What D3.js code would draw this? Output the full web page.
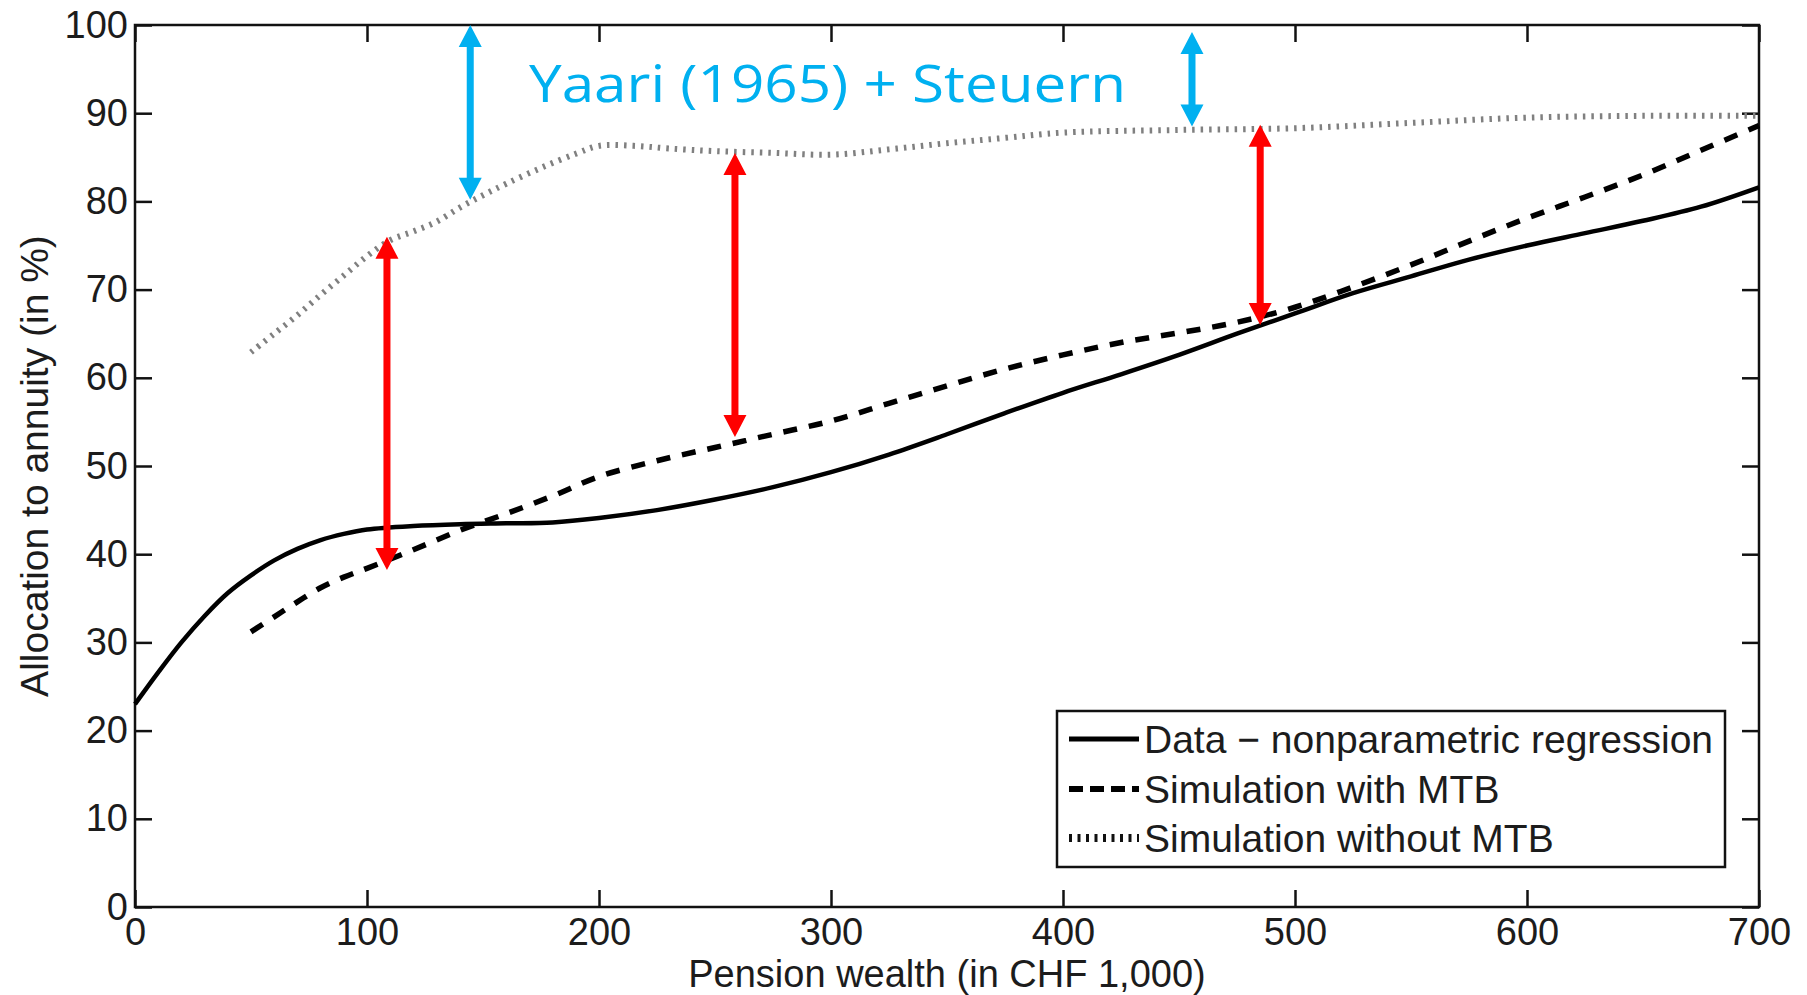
<!DOCTYPE html>
<html><head><meta charset="utf-8">
<script src="https://cdn.jsdelivr.net/npm/d3@7/dist/d3.min.js"></script>
<style>body{margin:0;background:#fff;}svg{display:block;}</style>
</head><body>
<svg id="chart" width="1807" height="995"></svg>
<script>
// ---------- data ----------
const xTicks = [0, 100, 200, 300, 400, 500, 600, 700];
const yTicks = [0, 10, 20, 30, 40, 50, 60, 70, 80, 90, 100];

// Data - nonparametric regression
const wealthData = [0,10,20,30,40,50,60,70,80,90,100,120,140,160,180,200,225,250,275,300,325,350,375,400,425,450,475,500,525,550,575,600,625,650,675,700];
const allocData  = [23.0,26.6,30.0,33.0,35.6,37.6,39.3,40.6,41.6,42.3,42.8,43.2,43.4,43.5,43.6,44.1,45.0,46.2,47.6,49.3,51.3,53.6,56.0,58.3,60.4,62.6,65.0,67.3,69.6,71.5,73.4,75.0,76.4,77.8,79.4,81.6];

// Simulation with MTB
const wealthMTB = [50,60,70,80,90,100,120,140,160,180,200,225,250,275,300,325,350,375,400,425,450,475,500,525,550,575,600,625,650,675,700];
const allocMTB  = [31.2,32.9,34.6,36.2,37.4,38.4,40.5,42.7,44.6,46.6,48.8,50.6,52.1,53.6,55.1,57.1,59.1,61.0,62.6,64.0,65.1,66.3,68.0,70.3,72.8,75.5,78.1,80.5,83.0,85.8,88.6];

// Simulation without MTB
const wealthNoMTB = [50,60,70,80,90,100,110,120,130,140,150,160,175,190,200,215,230,250,275,300,325,350,375,400,450,500,550,600,650,700];
const allocNoMTB  = [62.9,65.0,67.1,69.4,71.6,73.8,75.6,76.6,77.7,79.3,80.7,82.0,83.8,85.4,86.3,86.3,86.0,85.7,85.5,85.3,85.9,86.6,87.2,87.8,88.1,88.3,88.9,89.5,89.7,89.7];

const legendLabels = ["Data \u2212 nonparametric regression", "Simulation with MTB", "Simulation without MTB"];

// annotation arrows (data coordinates)
const arrowX      = [108.6, 258.6, 485, 144.5, 455.6];
const arrowTop    = [76.0, 85.5, 88.7, 100, 99.2];
const arrowBottom = [38.2, 53.3, 66.0, 80.2, 88.5];
const arrowKind   = ["red", "red", "red", "blue", "blue"];
const annotationText = "Yaari (1965) + Steuern";

// ---------- layout ----------
const m = {left: 135, right: 1759, top: 25, bottom: 907};
const FONT = "'Liberation Sans', Arial, Helvetica, sans-serif";
const TXT = "#1c1c1c";

const svg = d3.select("#chart");
const x = d3.scaleLinear().domain([0, 700]).range([m.left, m.right]);
const y = d3.scaleLinear().domain([0, 100]).range([m.bottom, m.top]);

// axes
function styleAxis(g) {
  g.selectAll("path.domain").remove();
  g.selectAll(".tick line").attr("stroke", "#111").attr("stroke-width", 2.5);
  g.selectAll(".tick text").attr("fill", TXT).style("font-family", FONT).style("font-size", "38px");
}
svg.append("g").attr("transform", `translate(0,${m.bottom})`)
  .call(d3.axisBottom(x).tickValues(xTicks).tickSizeInner(-17).tickSizeOuter(0).tickPadding(11))
  .call(styleAxis);
svg.append("g").attr("transform", `translate(0,${m.top})`)
  .call(d3.axisTop(x).tickValues(xTicks).tickSizeInner(-17).tickSizeOuter(0).tickFormat(""))
  .call(styleAxis);
svg.append("g").attr("transform", `translate(${m.left},0)`)
  .call(d3.axisLeft(y).tickValues(yTicks).tickSizeInner(-17).tickSizeOuter(0).tickPadding(7))
  .call(styleAxis);
svg.append("g").attr("transform", `translate(${m.right},0)`)
  .call(d3.axisRight(y).tickValues(yTicks).tickSizeInner(-17).tickSizeOuter(0).tickFormat(""))
  .call(styleAxis);

// frame
svg.append("rect").attr("x", m.left).attr("y", m.top)
  .attr("width", m.right - m.left).attr("height", m.bottom - m.top)
  .attr("fill", "none").attr("stroke", "#111").attr("stroke-width", 2.5);

// lines
const line = d3.line().x(d => x(d[0])).y(d => y(d[1])).curve(d3.curveCatmullRom.alpha(0.5));
const zip = (a, b) => a.map((v, i) => [v, b[i]]);

svg.append("path").datum(zip(wealthNoMTB, allocNoMTB)).attr("d", line)
  .attr("fill", "none").attr("stroke", "#808080").attr("stroke-width", 6)
  .attr("stroke-dasharray", "2.5,6");
svg.append("path").datum(zip(wealthMTB, allocMTB)).attr("d", line)
  .attr("fill", "none").attr("stroke", "#000").attr("stroke-width", 5.5)
  .attr("stroke-dasharray", "14,12");
svg.append("path").datum(zip(wealthData, allocData)).attr("d", line)
  .attr("fill", "none").attr("stroke", "#000").attr("stroke-width", 4.5);

// arrows
const arrowStyle = {
  red:  {color: "#FF0000", shaft: 7, headW: 23, headL: 22},
  blue: {color: "#00B0F0", shaft: 7, headW: 23, headL: 22}
};
arrowX.forEach((ax, i) => {
  const s = arrowStyle[arrowKind[i]];
  const px = x(ax), pt = y(arrowTop[i]), pb = y(arrowBottom[i]);
  const g = svg.append("g");
  g.append("rect").attr("x", px - s.shaft / 2).attr("y", pt + s.headL - 1)
    .attr("width", s.shaft).attr("height", Math.max(0, pb - pt - 2 * s.headL + 2))
    .attr("fill", s.color);
  g.append("path").attr("d",
    `M${px},${pt}L${px - s.headW / 2},${pt + s.headL}L${px + s.headW / 2},${pt + s.headL}Z` +
    `M${px},${pb}L${px - s.headW / 2},${pb - s.headL}L${px + s.headW / 2},${pb - s.headL}Z`)
    .attr("fill", s.color);
});

// annotation text
svg.append("text").attr("x", 529).attr("y", 102)
  .attr("textLength", 597).attr("lengthAdjust", "spacingAndGlyphs")
  .style("font-family", "'Open Sans', 'Noto Sans', sans-serif").style("font-size", "52px")
  .attr("fill", "#00B0F0").text(annotationText);

// axis labels
svg.append("text").attr("x", (m.left + m.right) / 2).attr("y", 987)
  .attr("text-anchor", "middle").attr("fill", TXT)
  .style("font-family", FONT).style("font-size", "38px")
  .text("Pension wealth (in CHF 1,000)");
svg.append("text").attr("transform", "translate(48,466) rotate(-90)")
  .attr("text-anchor", "middle").attr("fill", TXT)
  .style("font-family", FONT).style("font-size", "39px")
  .text("Allocation to annuity (in %)");

// legend
const lg = svg.append("g");
lg.append("rect").attr("x", 1057).attr("y", 711).attr("width", 668).attr("height", 156)
  .attr("fill", "#fff").attr("stroke", "#111").attr("stroke-width", 2.5);
const legendStyles = [
  {stroke: "#000", w: 5, dash: null},
  {stroke: "#000", w: 6, dash: "14,7"},
  {stroke: "#111", w: 8, dash: "3,5.5"}
];
const rowY = [739, 789, 838];
legendLabels.forEach((lab, i) => {
  const st = legendStyles[i];
  const l = lg.append("line").attr("x1", 1069).attr("x2", 1139)
    .attr("y1", rowY[i]).attr("y2", rowY[i])
    .attr("stroke", st.stroke).attr("stroke-width", st.w);
  if (st.dash) l.attr("stroke-dasharray", st.dash);
  lg.append("text").attr("x", 1144).attr("y", rowY[i]).attr("dy", "0.36em")
    .attr("fill", TXT).style("font-family", FONT).style("font-size", "39px").text(lab);
});
</script>
</body></html>
